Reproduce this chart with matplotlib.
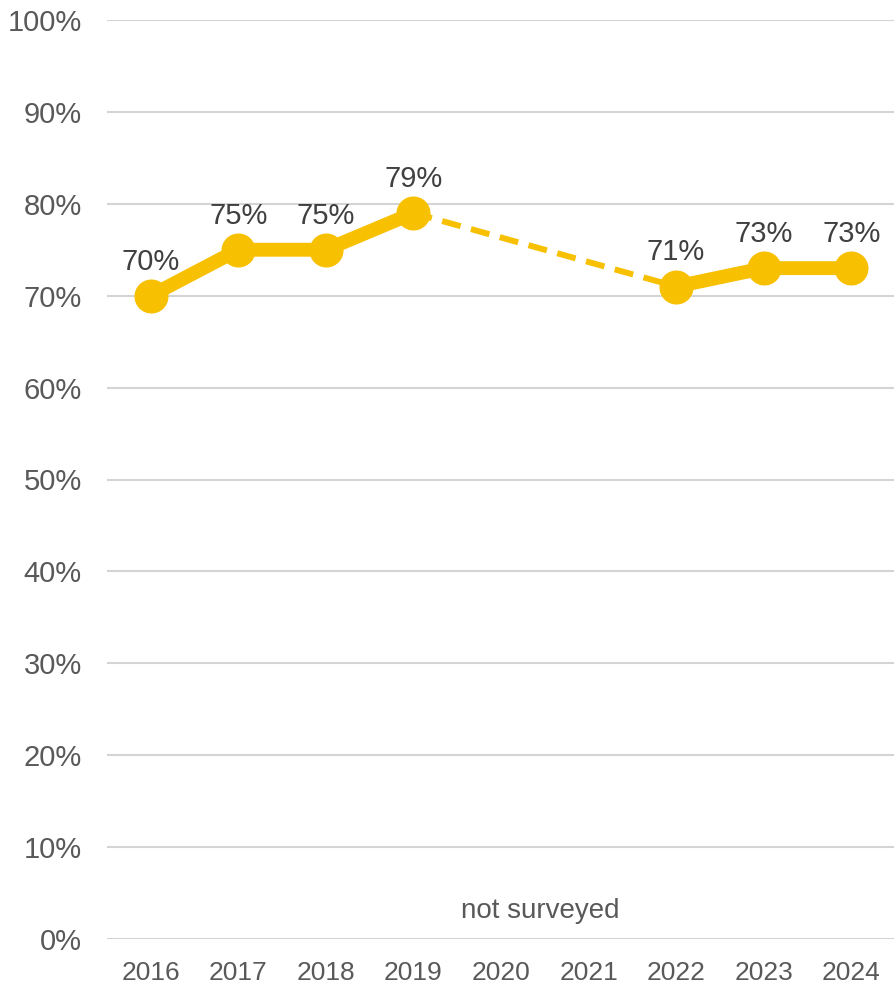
import numpy as np
import matplotlib.pyplot as plt

plt.rcParams['font.family'] = ['Liberation Sans', 'DejaVu Sans']

# Survey results by year (None = not surveyed)
years = ['2016', '2017', '2018', '2019', '2020', '2021', '2022', '2023', '2024']
values = [70, 75, 75, 79, None, None, 71, 73, 73]
gap_note = 'not surveyed'
gap_note_value = 3.0

gold = '#F7C000'
x = np.arange(len(years))

fig = plt.figure(figsize=(8.95, 9.84), dpi=100)
ax = fig.add_axes([107 / 895, 45 / 984, 788 / 895, 919 / 984])

# solid runs between consecutive surveyed years
def runs(vals):
    seg = []
    for i, v in enumerate(vals):
        if v is None:
            if seg:
                yield seg
            seg = []
        else:
            seg.append(i)
    if seg:
        yield seg

segs = list(runs(values))
for seg in segs:
    ax.plot(x[seg], [values[i] for i in seg], color=gold, lw=10,
            solid_capstyle='round', zorder=3)

# dashed bridge across the gap
for a, b in zip(segs[:-1], segs[1:]):
    i, j = a[-1], b[0]
    ax.plot([x[i], x[j]], [values[i], values[j]], color=gold, lw=4.3,
            dashes=(3.2, 1.8), zorder=2)

pts = [i for i, v in enumerate(values) if v is not None]
ax.plot(x[pts], [values[i] for i in pts], 'o', color=gold, ms=23.5, zorder=4)

for i in pts:
    ax.annotate(f'{values[i]}%', (x[i], values[i]), xytext=(0, 24.5),
                textcoords='offset points', ha='center', va='center',
                fontsize=21, color='#404040')

ax.text((x[4] + x[5]) / 2 - 0.05, gap_note_value, gap_note, ha='center', va='center',
        fontsize=20, color='#595959')

ax.set_xlim(-0.5, len(years) - 0.5)
ax.set_ylim(0, 100)
ax.set_yticks(range(0, 101, 10))
ax.set_yticklabels([f'{t}%' for t in range(0, 101, 10)])
ax.set_xticks(x)
ax.set_xticklabels(years)
ax.grid(axis='y', color='#D4D4D4', lw=1.5)
ax.set_axisbelow(True)
for s in ax.spines.values():
    s.set_visible(False)
ax.tick_params(axis='y', length=0, pad=18, labelsize=21, labelcolor='#595959')
ax.tick_params(axis='x', length=0, pad=16, labelsize=19, labelcolor='#595959')

fig.savefig('out.png', dpi=100, facecolor='white')
